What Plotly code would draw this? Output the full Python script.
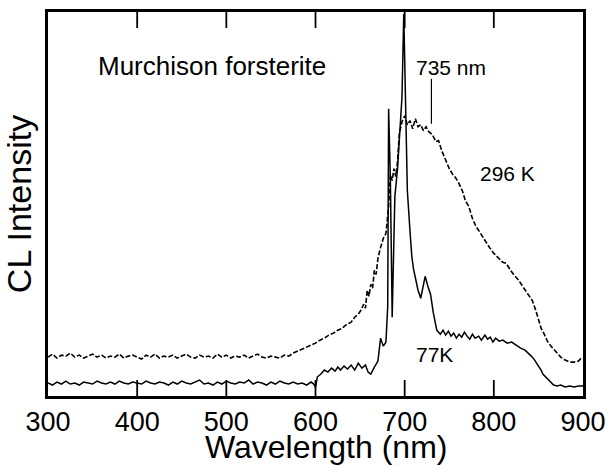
import plotly.graph_objects as go

# 77 K spectrum (solid)
wl_77 = [300, 305, 310, 315, 320, 325, 330, 335, 340, 345, 350, 355, 360, 365, 370, 375, 380, 385, 390, 395,
         400, 405, 410, 415, 420, 425, 430, 435, 440, 445, 450, 455, 460, 465, 470, 475, 480, 485, 490, 495,
         500, 505, 510, 515, 520, 525, 530, 535, 540, 545, 550, 555, 560, 565, 570, 575, 580, 585, 590, 595,
         598, 600, 602, 606, 610, 614, 618, 622, 625, 628, 632, 636, 640, 644, 648, 652, 656, 659, 662, 666,
         670, 673, 676, 679, 681, 682, 684, 686, 689, 692, 694, 697, 699, 701, 703, 706, 708, 710, 712, 715,
         718, 721, 723, 726, 729, 732, 736, 740, 743, 746, 749, 752, 755, 758, 761, 764, 767, 770, 773, 776,
         779, 783, 786, 790, 793, 796, 799, 802, 806, 810, 815, 820, 825, 830, 835, 839, 842, 845, 848, 850,
         853, 855, 858, 860, 864, 867, 871, 875, 880, 885, 890, 895, 900]
int_77 = [13, 11, 14, 12, 15, 12, 13, 11, 14, 13, 12, 15, 13, 12, 14, 12, 15, 13, 12, 14,
          13, 12, 15, 13, 12, 14, 13, 11, 14, 12, 15, 13, 12, 14, 16, 12, 13, 11, 14, 12,
          15, 13, 12, 14, 13, 16, 12, 14, 13, 11, 14, 12, 15, 13, 12, 14, 12, 13, 11, 14,
          12, 9, 19, 22, 26, 24, 28, 25, 29, 26, 30, 27, 31, 26, 33, 28, 31, 24, 22, 29,
          35, 58, 50, 54, 90, 288, 215, 79, 200, 228, 262, 300, 383, 300, 206, 165, 140, 127, 119, 106,
          98, 110, 120, 110, 102, 84, 66, 62, 66, 61, 65, 60, 63, 58, 62, 59, 64, 60, 57, 62,
          58, 60, 56, 61, 57, 59, 54, 58, 55, 56, 53, 54, 51, 48, 46, 43, 40, 37, 33, 29,
          26, 22, 19, 17, 13, 11, 10, 11, 9, 10, 9, 10, 10]

# 296 K spectrum (dashed)
wl_296 = [300, 305, 310, 315, 320, 325, 330, 335, 340, 345, 350, 355, 360, 365, 370, 375, 380, 385, 390, 395,
          400, 405, 410, 415, 420, 425, 430, 435, 440, 445, 450, 455, 460, 465, 470, 475, 480, 485, 490, 495,
          500, 505, 510, 515, 520, 525, 530, 535, 540, 545, 550, 555, 560, 565, 570, 575, 580, 585, 590, 595,
          600, 605, 610, 615, 620, 625, 630, 635, 640, 644, 648, 651, 654, 656, 658, 660, 662, 664, 666, 668,
          670, 673, 676, 679, 682, 684, 686, 688, 690, 692, 694, 697, 700, 703, 706, 709, 712, 715, 718, 721,
          724, 727, 731, 735, 738, 742, 746, 750, 754, 757, 761, 765, 768, 772, 776, 780, 783, 787, 791, 795,
          800, 805, 810, 814, 818, 823, 828, 833, 838, 843, 847, 850, 853, 856, 860, 865, 870, 875, 880, 885,
          890, 895, 898]
int_296 = [39, 42, 38, 41, 40, 43, 39, 41, 38, 40, 42, 39, 41, 38, 40, 39, 42, 38, 40, 41,
           39, 37, 41, 39, 42, 38, 40, 39, 41, 38, 40, 42, 39, 38, 41, 39, 40, 38, 42, 39,
           41, 38, 40, 39, 41, 38, 40, 42, 39, 38, 40, 39, 38, 41, 40, 43, 45, 47, 49, 51,
           53, 56, 58, 61, 63, 66, 68, 72, 74, 79, 82, 86, 92, 88, 106, 100, 112, 108, 126, 122,
           138, 149, 158, 163, 190, 222, 216, 228, 220, 235, 263, 275, 281, 272, 276, 268, 278, 270, 272, 266,
           270, 265, 262, 255, 256, 245, 236, 228, 222, 219, 213, 205, 196, 190, 178, 170, 166, 160, 154, 149,
           143, 139, 134, 133, 127, 121, 116, 109, 103, 96, 86, 76, 68, 63, 55, 49, 44, 39, 36, 34,
           34, 35, 38]

# x-axis ticks
tick_vals = [300, 400, 500, 600, 700, 800, 900]

# 735 nm marker line
marker_nm = 730
marker_y = [273, 318]

Y_MAX = 385
TICK_LEN = 16  # in y data units (1 unit = 1 px here)

fig = go.Figure()
fig.add_trace(go.Scatter(x=wl_296, y=int_296, mode="lines",
                         line=dict(color="black", width=1.6, dash="5px,2px"), showlegend=False))
fig.add_trace(go.Scatter(x=wl_77, y=int_77, mode="lines",
                         line=dict(color="black", width=1.5), showlegend=False))
fig.add_trace(go.Scatter(x=[marker_nm, marker_nm], y=marker_y, mode="lines",
                         line=dict(color="black", width=1.2), showlegend=False))

# inside tick marks on the bottom and top frame
tx, ty = [], []
for tv in tick_vals[1:-1]:
    tx += [tv, tv, None, tv, tv, None]
    ty += [0, TICK_LEN, None, Y_MAX - TICK_LEN, Y_MAX, None]
fig.add_trace(go.Scatter(x=tx, y=ty, mode="lines", line=dict(color="black", width=1.8),
                         showlegend=False, hoverinfo="skip", cliponaxis=False))

font_family = "Liberation Sans, Arial, sans-serif"
fig.add_annotation(x=484, y=331, xref="x", yref="y", text="Murchison forsterite", showarrow=False,
                   font=dict(size=26, family=font_family, color="black"))
fig.add_annotation(x=752, y=329, xref="x", yref="y", text="735 nm", showarrow=False,
                   font=dict(size=21, family=font_family, color="black"))
fig.add_annotation(x=815, y=223, xref="x", yref="y", text="296 K", showarrow=False,
                   font=dict(size=21, family=font_family, color="black"))
fig.add_annotation(x=734, y=42, xref="x", yref="y", text="77K", showarrow=False,
                   font=dict(size=21, family=font_family, color="black"))
# x-axis title
fig.add_annotation(x=0.52, y=-0.134, xref="paper", yref="paper", text="Wavelength (nm)",
                   showarrow=False, xanchor="center", yanchor="middle",
                   font=dict(size=32, family=font_family, color="black"))

fig.update_layout(
    width=611, height=466,
    margin=dict(l=48, r=28, t=12, b=70),
    paper_bgcolor="white", plot_bgcolor="white",
    font=dict(family=font_family, color="black"),
    xaxis=dict(range=[300, 900], tickmode="array", tickvals=tick_vals,
               ticks="", showline=True, linewidth=2.5, linecolor="black", mirror=True,
               showgrid=False, zeroline=False,
               tickfont=dict(size=27, family=font_family),
               automargin=False),
    yaxis=dict(range=[0, Y_MAX], showticklabels=False, ticks="",
               showline=True, linewidth=2.5, linecolor="black", mirror=True,
               showgrid=False, zeroline=False,
               title=dict(text="CL Intensity", font=dict(size=34, family=font_family), standoff=6),
               automargin=False),
)

fig.write_html("out.html", config={"displayModeBar": False},
               post_script="document.body.style.margin='0';")
